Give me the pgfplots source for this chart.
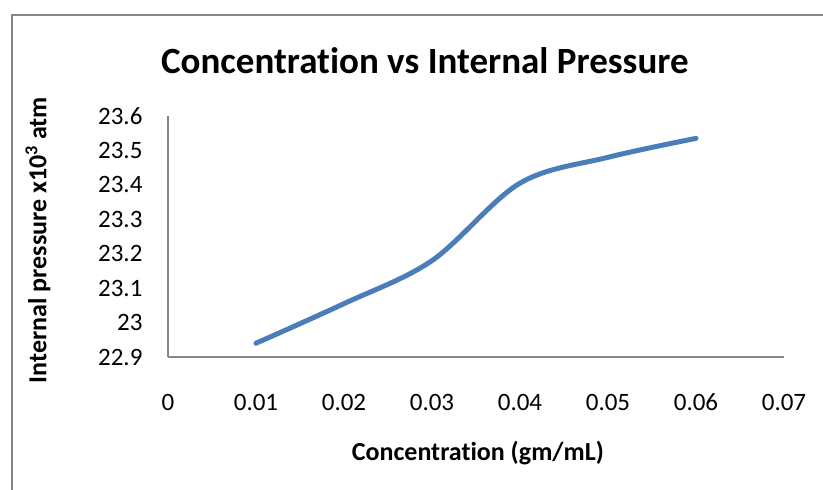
\documentclass[border=0pt]{standalone}
\usepackage{fontspec}
\setmainfont{Carlito}[Ligatures=NoCommon]
\usepackage{pgfplots}
\pgfplotsset{compat=1.18}
\definecolor{excelblue}{RGB}{74,126,187}
\definecolor{axgray}{RGB}{134,134,134}
\begin{document}
\begin{tikzpicture}[x=1pt,y=1pt]
\useasboundingbox (0,0) rectangle (823,490);
\draw[axgray, line width=1.5pt] (12,-5) -- (12,475) -- (830,475);
\begin{axis}[
  at={(168pt,133pt)}, anchor=south west,
  scale only axis, width=616pt, height=241pt,
  xmin=0, xmax=0.07, ymin=22.9, ymax=23.6,
  axis lines=left,
  axis line style={axgray, line width=1.2pt, -},
  scaled x ticks=false, scaled y ticks=false,
  xtick={0,0.01,0.02,0.03,0.04,0.05,0.06,0.07},
  xticklabels={0,0.01,0.02,0.03,0.04,0.05,0.06,0.07},
  ytick={22.9,23,23.1,23.2,23.3,23.4,23.5,23.6},
  yticklabels={22.9,23,23.1,23.2,23.3,23.4,23.5,23.6},
  major tick length=0pt,
  tick style={draw=none},
  /pgf/number format/assume math mode=true,
  ticklabel style={font=\fontsize{25}{30}\selectfont},
  xticklabel style={yshift=-33pt, text height=17pt, text depth=2pt, anchor=north},
  yticklabel style={xshift=-22pt},
  title={\textbf{Concentration vs Internal Pressure}},
  title style={font=\fontsize{37}{44}\selectfont, at={(rel axis cs:0.417,1.203)}, anchor=center},
  xlabel={\textbf{Concentration (gm/mL)}},
  xlabel style={font=\fontsize{26}{31}\selectfont, at={(rel axis cs:0.503,-0.40)}, anchor=center},
  ylabel={\textbf{Internal pressure x10\textsuperscript{3} atm}},
  ylabel style={font=\fontsize{26}{31}\selectfont, at={(rel axis cs:-0.211,0.485)}, anchor=center, rotate=0},
  clip=false,
]
\addplot[excelblue, line width=5pt, line cap=round, smooth, tension=0.55] coordinates {
  (0.01,22.94) (0.02,23.055) (0.03,23.18) (0.04,23.405) (0.05,23.48) (0.06,23.535)
};
\end{axis}
\end{tikzpicture}
\end{document}
